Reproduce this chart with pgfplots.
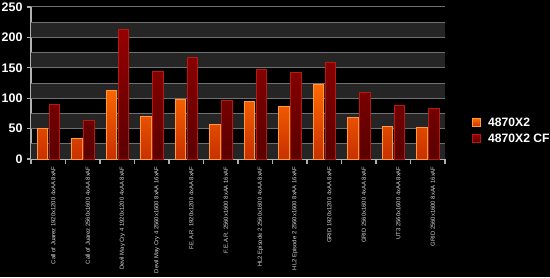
\documentclass[border=0pt]{standalone}
\usepackage{pgfplots}
\pgfplotsset{compat=1.18}
\usepackage{fontspec}
\setmainfont{Liberation Sans}
\definecolor{bandgray}{HTML}{252525}
\definecolor{gridc}{HTML}{707070}
\definecolor{axisc}{HTML}{B0B0B0}
\definecolor{orTop}{HTML}{FF6A00}
\definecolor{orBot}{HTML}{C83000}
\definecolor{orEdge}{HTML}{FF9A40}
\definecolor{rdTop}{HTML}{960000}
\definecolor{rdBot}{HTML}{5A0000}
\definecolor{rdEdge}{HTML}{B81A10}
\begin{document}
\begin{tikzpicture}[x=1bp,y=1bp]
\fill[black] (0,0) rectangle (550,277);
\useasboundingbox (0,0) rectangle (550,277);
\begin{axis}[
  at={(31bp,118bp)}, anchor=south west,
  scale only axis, width=414bp, height=152bp,
  xmin=-0.5, xmax=11.5, ymin=0, ymax=250,
  axis x line=bottom, axis y line=left,
  axis line style={axisc, line width=1.2bp, -},
  xtick={0,...,11},
  xticklabels={
    Call of Juarez 1920x1200 4xAA 8xAF,
    Call of Juarez 2560x1600 4xAA 8xAF,
    Devil May Cry 4 1920x1200 4xAA 8xAF,
    Devil May Cry 4 2560x1600 8xAA 16xAF,
    F.E.A.R. 1920x1200 4xAA 8xAF,
    F.E.A.R. 2560x1600 8xAA 16xAF,
    HL2 Episode 2 2560x1600 4xAA 8xAF,
    HL2 Episode 2 2560x1600 8xAA 16xAF,
    GRID 1920x1200 4xAA 8xAF,
    GRID 2560x1600 4xAA 8xAF,
    UT3 2560x1600 4xAA 8xAF,
    GRID 2560x1600 8xAA 16xAF},
  major x tick style={draw=none},
  minor xtick={-0.5,0.5,...,11.5},
  minor x tick style={axisc, line width=1.2bp},
  minor tick length=5bp,
  xticklabel style={rotate=90, anchor=east, font=\fontsize{5.9}{6}\selectfont, text=white!85!black, yshift=-5bp},
  ytick={0,50,...,250},
  y tick style={axisc, line width=1.2bp},
  major tick length=4bp,
  tick align=outside,
  /pgf/number format/assume math mode=true,
  yticklabel style={font=\fontsize{12.5}{13}\selectfont\bfseries, text=white, xshift=-1bp},
  legend style={draw=none, fill=none, at={(rel axis cs:1.058,0.30)}, anchor=north west,
    font=\fontsize{12.2}{13}\selectfont\bfseries, text=white, row sep=2bp},
  legend cell align=left,
  legend image code/.code={\draw[#1, line width=1bp] (0bp,-4bp) rectangle (8bp,4bp);
    \path (13bp,0bp);},
]
\fill[bandgray] (axis cs:-0.5,0) rectangle (axis cs:11.5,25);
\fill[bandgray] (axis cs:-0.5,50) rectangle (axis cs:11.5,75);
\fill[bandgray] (axis cs:-0.5,100) rectangle (axis cs:11.5,125);
\fill[bandgray] (axis cs:-0.5,150) rectangle (axis cs:11.5,175);
\fill[bandgray] (axis cs:-0.5,200) rectangle (axis cs:11.5,225);
\draw[gridc, line width=1bp] (axis cs:-0.5,25) -- (axis cs:11.5,25);
\draw[gridc, line width=1bp] (axis cs:-0.5,50) -- (axis cs:11.5,50);
\draw[gridc, line width=1bp] (axis cs:-0.5,75) -- (axis cs:11.5,75);
\draw[gridc, line width=1bp] (axis cs:-0.5,100) -- (axis cs:11.5,100);
\draw[gridc, line width=1bp] (axis cs:-0.5,125) -- (axis cs:11.5,125);
\draw[gridc, line width=1bp] (axis cs:-0.5,150) -- (axis cs:11.5,150);
\draw[gridc, line width=1bp] (axis cs:-0.5,175) -- (axis cs:11.5,175);
\draw[gridc, line width=1bp] (axis cs:-0.5,200) -- (axis cs:11.5,200);
\draw[gridc, line width=1bp] (axis cs:-0.5,225) -- (axis cs:11.5,225);
\draw[gridc, line width=1bp] (axis cs:-0.5,250) -- (axis cs:11.5,250);
\addplot[ybar, bar width=10.5bp, bar shift=-6bp, draw=orEdge, line width=1bp, top color=orTop, bottom color=orBot]
 coordinates {(0,50) (1,34) (2,112) (3,70) (4,98) (5,56) (6,94) (7,87) (8,122) (9,69) (10,53) (11,51)};
\addlegendentry{4870X2}
\addplot[ybar, bar width=10.5bp, bar shift=6bp, draw=rdEdge, line width=1bp, top color=rdTop, bottom color=rdBot]
 coordinates {(0,90) (1,63) (2,213) (3,144) (4,167) (5,96) (6,148) (7,142) (8,159) (9,109) (10,88) (11,83)};
\addlegendentry{4870X2 CF}
\end{axis}
\end{tikzpicture}
\end{document}
